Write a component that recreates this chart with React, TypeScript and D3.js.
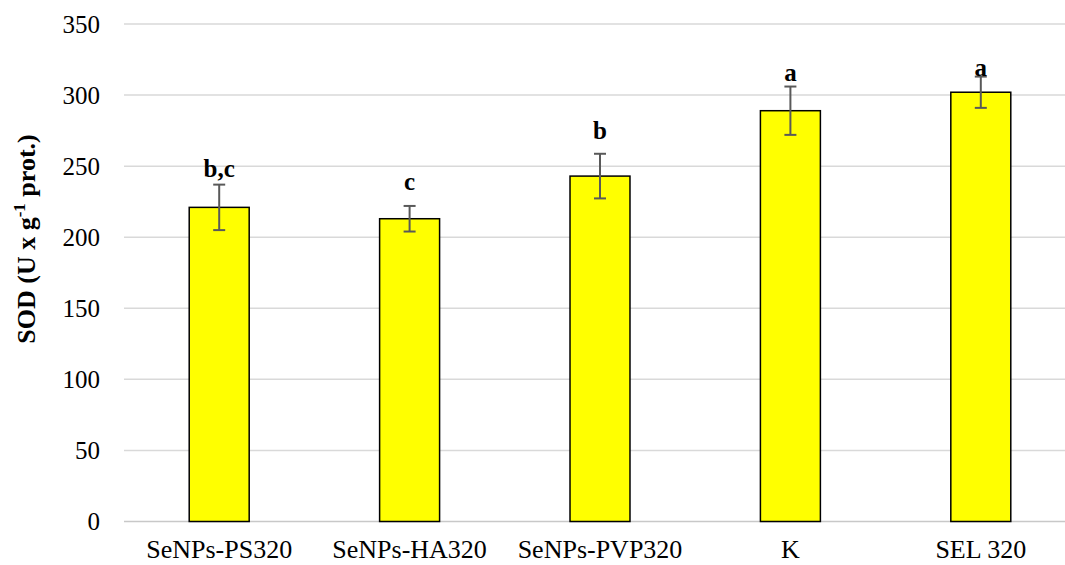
import React from "react";
import * as d3 from "d3";

const categories = ["SeNPs-PS320", "SeNPs-HA320", "SeNPs-PVP320", "K", "SEL 320"];
const values = [221, 213, 243, 289, 302];
const errors = [16, 9, 15.7, 17, 11];
const letters = ["b,c", "c", "b", "a", "a"];
const letterY = [242.5, 233, 269, 310, 313.5];
const yTicks = [0, 50, 100, 150, 200, 250, 300, 350];

const W = 1065;
const H = 565;
const left = 124;
const right = 1076;
const top = 24;
const bottom = 521.5;

const font = '"Liberation Serif"';

export default function App() {
  const x = d3.scaleBand<string>().domain(categories).range([left, right]).paddingInner(0.685).paddingOuter(0.3425);
  const y = d3.scaleLinear().domain([0, 350]).range([bottom, top]);
  return (
    <svg width={W} height={H} style={{ position: "absolute", left: 0, top: 0, background: "#fff" }}>
      {yTicks.map((t) => (
        <g key={t}>
          <line x1={left} x2={right} y1={y(t)} y2={y(t)} stroke={t === 0 ? "#c8c8c8" : "#d9d9d9"} strokeWidth={1.5} />
          <text x={100} y={y(t)} dy="0.35em" textAnchor="end" style={{ fontFamily: font, fontSize: 25 }} fill="#000">
            {t}
          </text>
        </g>
      ))}
      {categories.map((c, i) => {
        const cx = (x(c) as number) + x.bandwidth() / 2;
        return (
          <g key={c}>
            <rect x={x(c)} y={y(values[i])} width={x.bandwidth()} height={y(0) - y(values[i])} fill="#ffff00" stroke="#000" strokeWidth={1.5} />
            <g stroke="#595959" strokeWidth={2}>
              <line x1={cx} x2={cx} y1={y(values[i] + errors[i])} y2={y(values[i] - errors[i])} />
              <line x1={cx - 6} x2={cx + 6} y1={y(values[i] + errors[i])} y2={y(values[i] + errors[i])} />
              <line x1={cx - 6} x2={cx + 6} y1={y(values[i] - errors[i])} y2={y(values[i] - errors[i])} />
            </g>
            <text x={cx} y={y(letterY[i])} textAnchor="middle" style={{ fontFamily: font, fontWeight: "bold", fontSize: 25 }} fill="#000">
              {letters[i]}
            </text>
            <text x={cx} y={558} textAnchor="middle" style={{ fontFamily: font, fontSize: 26 }} fill="#000">
              {c}
            </text>
          </g>
        );
      })}
      <text
        transform="translate(35, 239) rotate(-90)"
        textAnchor="middle"
        style={{ fontFamily: font, fontWeight: "bold", fontSize: 26 }}
        fill="#000"
      >
        SOD (U x g<tspan dy="-10" style={{ fontSize: 17 }}>-1</tspan>
        <tspan dy="10"> prot.)</tspan>
      </text>
    </svg>
  );
}
